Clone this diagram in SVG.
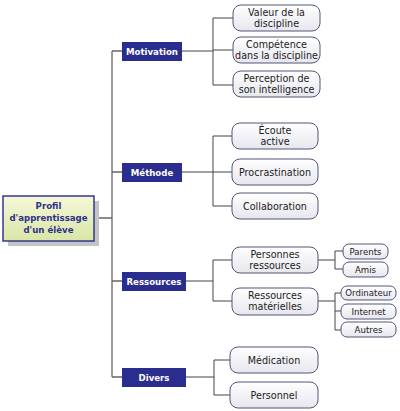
<svg xmlns="http://www.w3.org/2000/svg" width="400" height="411" viewBox="0 0 400 411">
<defs>
<linearGradient id="gRoot" x1="0" y1="0" x2="0" y2="1">
<stop offset="0" stop-color="#f6f8d8"/><stop offset="1" stop-color="#d9e6a6"/>
</linearGradient>
<linearGradient id="gLeaf" x1="0" y1="0" x2="0" y2="1">
<stop offset="0" stop-color="#ffffff"/><stop offset="1" stop-color="#e6e6ee"/>
</linearGradient>
</defs>
<style>
.bg{fill:#ffffff}
.cat rect{fill:#2b2d8e}
.cat text{font-family:"DejaVu Sans",Verdana,sans-serif;font-weight:bold;font-size:8.6px;fill:#ffffff;text-anchor:middle}
.leaf rect{fill:url(#gLeaf);stroke:#55557a;stroke-width:1}
.leaf text{font-family:"DejaVu Sans",Verdana,sans-serif;font-size:9.6px;fill:#222222;text-anchor:middle}
.small text{font-size:8.6px}
.root .sh{fill:#c4c4c4}
.root .box{fill:url(#gRoot);stroke:#34378e;stroke-width:1.5}
.root text{font-family:"DejaVu Sans",Verdana,sans-serif;font-weight:bold;font-size:8.6px;fill:#2e318c;text-anchor:middle}
#connectors path{fill:none;stroke:#444444;stroke-width:1}
#connectors .trunk{stroke:#666666;stroke-width:1.3}
</style>
<rect class="bg" x="0" y="0" width="400" height="411"/>
<g id="connectors">
<path class="trunk" d="M94 218H112M112 51V377M112 51H122M112 172H122M112 281H122M112 377H122"/>
<path d="M182 51H213M213 18V85M213 18H233M213 50H233M213 85H233"/>
<path d="M182 172H213M213 136V206M213 136H232M213 172H232M213 206H232"/>
<path d="M186 281H213M213 260V301M213 260H232M213 301H232"/>
<path d="M318 260H335M335 251V269M335 251H343M335 269H343"/>
<path d="M318 301H335M335 293V330M335 293H341M335 311H341M335 330H341"/>
<path d="M186 377H214M214 360V395M214 360H230M214 395H230"/>
</g>
<g id="root" class="root">
<rect class="sh" x="8" y="201" width="91" height="45"/>
<rect class="box" x="3" y="196" width="91" height="45"/>
<text x="48.5" y="209">Profil</text>
<text x="48.5" y="221">d'apprentissage</text>
<text x="48.5" y="233">d'un élève</text>
</g>
<g id="motivation" class="cat"><rect x="122" y="42" width="60" height="19"/><text x="152" y="54.5">Motivation</text></g>
<g id="methode" class="cat"><rect x="122" y="163" width="60" height="19"/><text x="152" y="175.5">Méthode</text></g>
<g id="ressources" class="cat"><rect x="122" y="272" width="64" height="19"/><text x="154" y="284.5">Ressources</text></g>
<g id="divers" class="cat"><rect x="122" y="368" width="64" height="19"/><text x="154" y="380.5">Divers</text></g>
<g id="valeur" class="leaf"><rect x="233" y="5" width="87" height="26" rx="8"/><text x="276.5" y="16">Valeur de la</text><text x="276.5" y="27">discipline</text></g>
<g id="competence" class="leaf"><rect x="233" y="37" width="87" height="26" rx="8"/><text x="276.5" y="48">Compétence</text><text x="276.5" y="59">dans la discipline</text></g>
<g id="perception" class="leaf"><rect x="233" y="71" width="87" height="26" rx="8"/><text x="276.5" y="82">Perception de</text><text x="276.5" y="93">son intelligence</text></g>
<g id="ecoute" class="leaf"><rect x="232" y="123" width="86" height="26" rx="8"/><text x="275" y="134">Écoute</text><text x="275" y="145">active</text></g>
<g id="procrastination" class="leaf"><rect x="232" y="159" width="86" height="26" rx="8"/><text x="275" y="175.5">Procrastination</text></g>
<g id="collaboration" class="leaf"><rect x="232" y="193" width="86" height="26" rx="8"/><text x="275" y="209.5">Collaboration</text></g>
<g id="personnes" class="leaf"><rect x="232" y="247" width="86" height="26" rx="8"/><text x="275" y="258">Personnes</text><text x="275" y="269">ressources</text></g>
<g id="materielles" class="leaf"><rect x="232" y="288" width="86" height="27" rx="8"/><text x="275" y="299">Ressources</text><text x="275" y="310">matérielles</text></g>
<g id="parents" class="leaf small"><rect x="343" y="244" width="45" height="15" rx="6"/><text x="365.5" y="254.5">Parents</text></g>
<g id="amis" class="leaf small"><rect x="343" y="262" width="45" height="15" rx="6"/><text x="365.5" y="272.5">Amis</text></g>
<g id="ordinateur" class="leaf small"><rect x="341" y="286" width="55" height="14" rx="6"/><text x="368.5" y="296">Ordinateur</text></g>
<g id="internet" class="leaf small"><rect x="341" y="304" width="55" height="15" rx="6"/><text x="368.5" y="314.5">Internet</text></g>
<g id="autres" class="leaf small"><rect x="341" y="322" width="55" height="15" rx="6"/><text x="368.5" y="332.5">Autres</text></g>
<g id="medication" class="leaf"><rect x="230" y="347" width="88" height="26" rx="8"/><text x="274" y="363.5">Médication</text></g>
<g id="personnel" class="leaf"><rect x="230" y="382" width="88" height="26" rx="8"/><text x="274" y="398.5">Personnel</text></g>
</svg>
